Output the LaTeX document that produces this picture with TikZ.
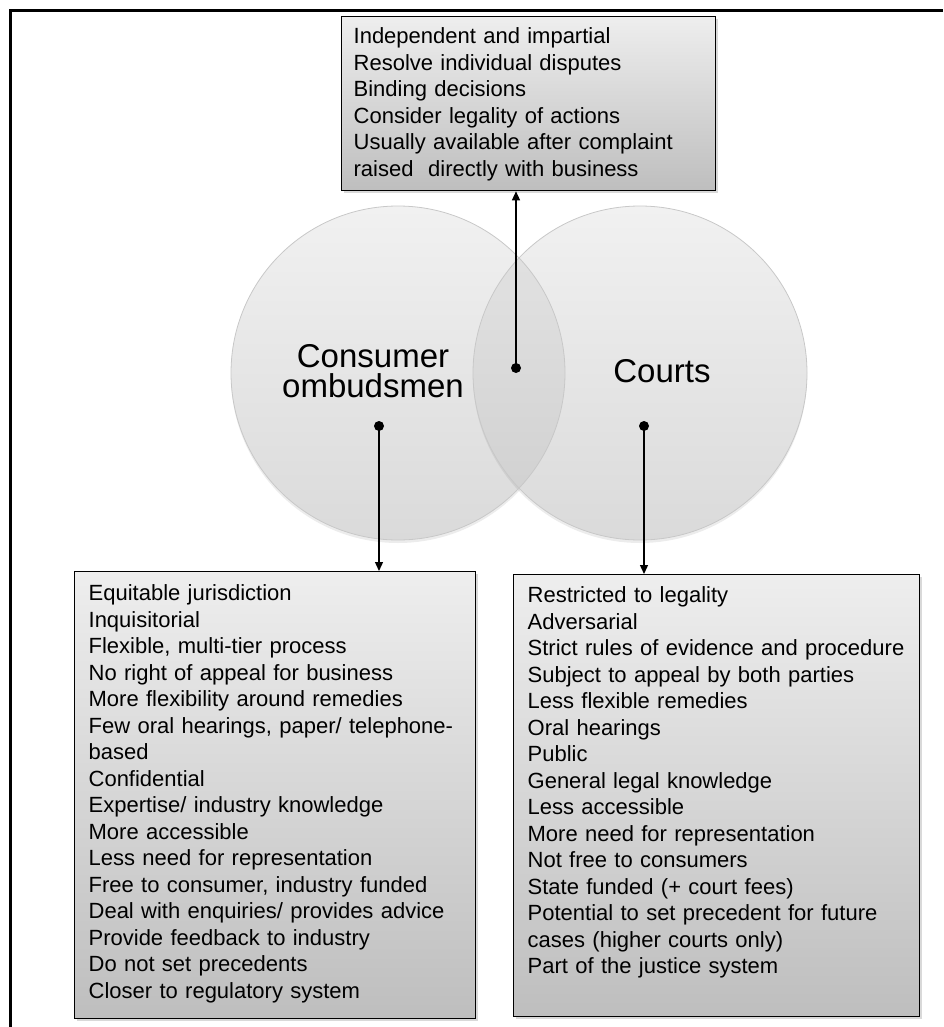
\documentclass[tikz,border=0pt]{standalone}
\usepackage{fontspec}
\setmainfont{Liberation Sans}
\usepackage{tikz}
\usetikzlibrary{arrows.meta, shadows, positioning}
\usepackage{xcolor}
\definecolor{boxtop}{RGB}{238, 238, 238}
\definecolor{boxbottom}{RGB}{190, 190, 190}
\definecolor{venntop}{RGB}{241, 241, 241}
\definecolor{vennbottom}{RGB}{218, 218, 218}
\definecolor{vennedge}{RGB}{200, 200, 200}

\begin{document}
\begin{tikzpicture}[x=1pt, y=-1pt,
    listbox/.style={draw=black, line width=1.3pt, top color=boxtop, bottom color=boxbottom,
      drop shadow={shadow xshift=2.5pt, shadow yshift=-2.5pt, opacity=0.3},
      anchor=north west, inner xsep=14pt, inner ysep=0pt, align=left,
      font=\fontsize{22}{26.5}\selectfont},
    venn/.style={circle, minimum size=334pt, inner sep=0pt, top color=venntop, bottom color=vennbottom,
      drop shadow={shadow xshift=0pt, shadow yshift=-3pt, opacity=0.15}},
    vennline/.style={draw=vennedge, line width=0.8pt},
    vennlabel/.style={align=center, font=\fontsize{33}{30}\selectfont},
    pin/.style={circle, fill=black, inner sep=0pt, minimum size=10pt},
    link/.style={line width=1.3pt, -{Triangle[length=9pt, width=8pt]}}]
  \useasboundingbox (0,0) rectangle (943,1027);

  % Frame (top and left edges only)
  \draw[line width=3pt] (10.5,1027) -- (10.5,10.5) -- (943,10.5);

  % Venn circles
  \node[venn] (ombud) at (398,373) {};
  \node[venn] (courts) at (640,373) {};
  \begin{scope}
    \clip (ombud.center) circle[radius=167pt];
    \fill[black, opacity=0.05] (courts.center) circle[radius=167pt];
  \end{scope}
  \draw[vennline] (ombud.center) circle[radius=167pt];
  \draw[vennline] (courts.center) circle[radius=167pt];
  \node[vennlabel] (ombudlabel) at (373,371) {Consumer\\ombudsmen};
  \node[vennlabel] (courtslabel) at (662,371) {Courts};

  % Shared features
  \node[listbox, text width=350pt, inner xsep=12pt, text height=27pt, text depth=147pt] (shared) at (341,16)
    {Independent and impartial\\
     Resolve individual disputes\\
     Binding decisions\\
     Consider legality of actions\\
     Usually available after complaint\\
     raised\ \ directly with business};

  % Ombudsmen features
  \node[listbox, text width=373pt, text height=29pt, text depth=418pt] (ombudlist) at (74,571)
    {Equitable jurisdiction\\
     Inquisitorial\\
     Flexible, multi-tier process\\
     No right of appeal for business\\
     More flexibility around remedies\\
     \makebox[\linewidth][s]{Few oral hearings, paper/ telephone-}\\
     based\\
     Confidential\\
     Expertise/ industry knowledge\\
     More accessible\\
     Less need for representation\\
     Free to consumer, industry funded\\
     Deal with enquiries/ provides advice\\
     Provide feedback to industry\\
     Do not set precedents\\
     Closer to regulatory system};

  % Courts features
  \node[listbox, text width=378pt, text height=28pt, text depth=414pt] (courtslist) at (513,574)
    {Restricted to legality\\
     Adversarial\\
     Strict rules of evidence and procedure\\
     Subject to appeal by both parties\\
     Less flexible remedies\\
     Oral hearings\\
     Public\\
     General legal knowledge\\
     Less accessible\\
     More need for representation\\
     Not free to consumers\\
     State funded (+ court fees)\\
     \makebox[\linewidth][s]{Potential to set precedent for future}\\
     cases (higher courts only)\\
     Part of the justice system};

  % Pointers
  \node[pin] (midpin) at (516,368) {};
  \node[pin] (ombudpin) at (379,426) {};
  \node[pin] (courtspin) at (644,426) {};
  \draw[link] (midpin.center) -- (midpin |- shared.south);
  \draw[link] (ombudpin.center) -- (ombudpin |- ombudlist.north);
  \draw[link] (courtspin.center) -- (courtspin |- courtslist.north);
\end{tikzpicture}
\end{document}
